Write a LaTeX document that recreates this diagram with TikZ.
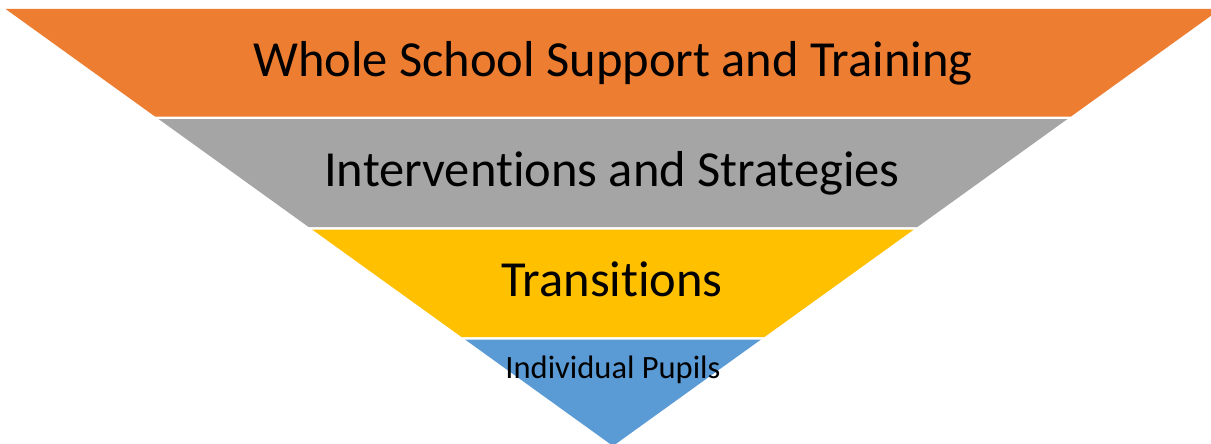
\documentclass[tikz,border=0pt]{standalone}
\usepackage{fontspec}
\setmainfont{Carlito}[Ligatures={NoCommon}, RawFeature={-liga;-dlig;-clig}]
\definecolor{lvorange}{HTML}{ED7D31}
\definecolor{lvgray}{HTML}{A5A5A5}
\definecolor{lvyellow}{HTML}{FFC000}
\definecolor{lvblue}{HTML}{5B9BD5}
\tikzset{
  band/.style={draw=none},
  bigtext/.style={anchor=base, inner sep=0pt, text=black, font=\fontsize{50.5}{60}\selectfont},
  smalltext/.style={anchor=base, inner sep=0pt, text=black, font=\fontsize{32.5}{40}\selectfont},
}
\begin{document}
\begin{tikzpicture}[x=1pt,y=-1pt]
\useasboundingbox (0,0) rectangle (1211,444);
\fill[white] (0,0) rectangle (1211,444);
\begin{scope}
\clip (0,0) rectangle (1211,444);
\fill[band, lvorange] (5.6,9) -- (1220.4,9) -- (1071,116.5) -- (155,116.5) -- cycle;
\fill[band, lvgray] (158.5,119) -- (1067.5,119) -- (917.4,227) -- (308.6,227) -- cycle;
\fill[band, lvyellow] (312.1,229.5) -- (913.9,229.5) -- (764.5,337) -- (461.5,337) -- cycle;
\fill[band, lvblue] (465,339.5) -- (761,339.5) -- (613,446) -- cycle;
\end{scope}
\node[bigtext] (t1) at (613,76.7) {Whole School Support and Training};
\node[bigtext] (t2) at (612,186.7) {Interventions and Strategies};
\node[bigtext] (t3) at (612,296.7) {Transitions};
\node[smalltext] (t4) at (613,378) {Individual Pupils};
\end{tikzpicture}
\end{document}
